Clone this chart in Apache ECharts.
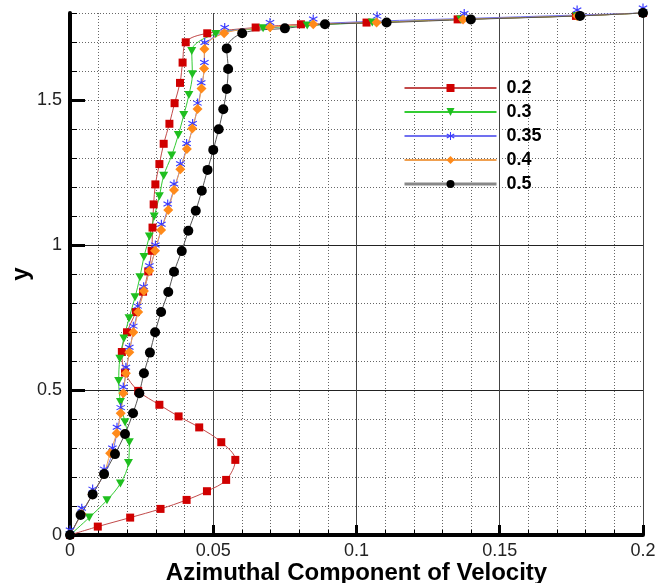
<!DOCTYPE html>
<html>
<head>
<meta charset="utf-8">
<script src="https://cdn.jsdelivr.net/npm/echarts@6/dist/echarts.min.js"></script>
<style>
  html, body { margin: 0; padding: 0; background: #fff; }
  #chart { width: 655px; height: 583px; }
</style>
</head>
<body>
<div id="chart"></div>
<script>
// Azimuthal velocity profiles, one curve per case
const seriesNames = ['0.2', '0.3', '0.35', '0.4', '0.5'];

const x02 = [0, 0.0097, 0.0210, 0.0316, 0.0407, 0.0478, 0.0545, 0.0577, 0.0528, 0.0451, 0.0379, 0.0312, 0.0238, 0.0192, 0.0181, 0.0199, 0.0230, 0.0255, 0.0273, 0.0285, 0.0288, 0.0292, 0.0298, 0.0312, 0.0327, 0.0347, 0.0365, 0.0384, 0.0393, 0.0404, 0.0479, 0.0648, 0.0806, 0.1035, 0.1353, 0.1766, 0.2];
const y02 = [0, 0.029, 0.060, 0.090, 0.121, 0.151, 0.190, 0.259, 0.320, 0.371, 0.409, 0.449, 0.497, 0.560, 0.631, 0.699, 0.769, 0.839, 0.909, 0.980, 1.060, 1.140, 1.209, 1.279, 1.349, 1.418, 1.489, 1.559, 1.629, 1.699, 1.730, 1.750, 1.761, 1.767, 1.778, 1.790, 1.800];

const x03 = [0, 0.0067, 0.0129, 0.0176, 0.0204, 0.0207, 0.0192, 0.0176, 0.0170, 0.0174, 0.0188, 0.0206, 0.0227, 0.0244, 0.0258, 0.0277, 0.0294, 0.0312, 0.0327, 0.0355, 0.0378, 0.0397, 0.0415, 0.0427, 0.0425, 0.0509, 0.0674, 0.0828, 0.1055, 0.1364, 0.1768, 0.2];
const y03 = [0, 0.060, 0.120, 0.178, 0.248, 0.320, 0.389, 0.459, 0.531, 0.608, 0.678, 0.747, 0.820, 0.889, 0.959, 1.029, 1.098, 1.168, 1.239, 1.309, 1.379, 1.448, 1.517, 1.589, 1.669, 1.728, 1.747, 1.757, 1.767, 1.778, 1.790, 1.800];

const x035 = [0, 0.0041, 0.0079, 0.0119, 0.0148, 0.0164, 0.0177, 0.0186, 0.0195, 0.0207, 0.0221, 0.0236, 0.0257, 0.0277, 0.0298, 0.0319, 0.0341, 0.0363, 0.0385, 0.0407, 0.0428, 0.0445, 0.0458, 0.0469, 0.0470, 0.0540, 0.0698, 0.0849, 0.1072, 0.1376, 0.1770, 0.2];
const y035 = [0, 0.075, 0.141, 0.210, 0.283, 0.354, 0.422, 0.493, 0.561, 0.630, 0.703, 0.772, 0.839, 0.911, 0.983, 1.054, 1.124, 1.193, 1.263, 1.333, 1.402, 1.472, 1.542, 1.612, 1.681, 1.733, 1.750, 1.762, 1.772, 1.781, 1.793, 1.800];

const x04 = [0, 0.0040, 0.0078, 0.0118, 0.0140, 0.0163, 0.0177, 0.0186, 0.0195, 0.0207, 0.0221, 0.0238, 0.0258, 0.0277, 0.0297, 0.0318, 0.0343, 0.0363, 0.0385, 0.0408, 0.0427, 0.0445, 0.0459, 0.0468, 0.0469, 0.0538, 0.0698, 0.0849, 0.1070, 0.1372, 0.1770, 0.2];
const y04 = [0, 0.072, 0.140, 0.210, 0.282, 0.351, 0.420, 0.489, 0.558, 0.630, 0.699, 0.769, 0.841, 0.911, 0.980, 1.052, 1.121, 1.190, 1.261, 1.331, 1.402, 1.469, 1.540, 1.609, 1.676, 1.730, 1.751, 1.761, 1.767, 1.778, 1.790, 1.800];

const x05 = [0, 0.0037, 0.0079, 0.0119, 0.0157, 0.0192, 0.0220, 0.0242, 0.0258, 0.0279, 0.0297, 0.0318, 0.0343, 0.0363, 0.0390, 0.0413, 0.0439, 0.0460, 0.0480, 0.0500, 0.0519, 0.0535, 0.0547, 0.0552, 0.0547, 0.0601, 0.0750, 0.0890, 0.1105, 0.1399, 0.1780, 0.2];
const y05 = [0, 0.069, 0.140, 0.210, 0.279, 0.348, 0.420, 0.489, 0.558, 0.629, 0.699, 0.769, 0.838, 0.908, 0.979, 1.049, 1.118, 1.187, 1.259, 1.328, 1.399, 1.468, 1.538, 1.607, 1.678, 1.730, 1.747, 1.761, 1.767, 1.778, 1.790, 1.800];

// Tick positions
const xTicks = [0, 0.05, 0.1, 0.15, 0.2];
const yTicks = [0, 0.5, 1, 1.5];

const zip = (xs, ys) => xs.map((x, i) => [x, ys[i]]);

// six-armed asterisk marker
const STAR = 'path://M8.8 0L11.2 0L11.2 20L8.8 20Z' +
  'M1.94 3.96L19.26 13.96L18.06 16.04L0.74 6.04Z' +
  'M0.74 13.96L18.06 3.96L19.26 6.04L1.94 16.04Z';
const TRI_DOWN = 'path://M0 0L10 0L5 9Z';

const FONT = 'Liberation Sans, Arial, sans-serif';

function lineSeries(name, xs, ys, lineColor, symbol, symbolSize, fill, extra) {
  return Object.assign({
    name: name,
    type: 'line',
    xAxisIndex: 0,
    yAxisIndex: 0,
    data: zip(xs, ys),
    smooth: 0.35,
    symbol: symbol,
    symbolSize: symbolSize,
    showAllSymbol: true,
    clip: false,
    lineStyle: { color: lineColor, width: 1 },
    itemStyle: { color: fill, borderWidth: 0 },
    emphasis: { disabled: true },
    animation: false
  }, extra || {});
}

const chart = echarts.init(document.getElementById('chart'), null, { renderer: 'canvas' });

chart.setOption({
  backgroundColor: '#fff',
  animation: false,
  grid: { left: 70, right: 12, top: 13, bottom: 48, containLabel: false, outerBoundsMode: 'none' },
  legend: {
    left: 403,
    top: 79,
    padding: 0,
    orient: 'vertical',
    itemWidth: 92,
    itemHeight: 10,
    itemGap: 6,
    selectedMode: false,
    textStyle: {
      fontFamily: FONT, fontSize: 18, fontWeight: 'bold', color: '#000',
      lineHeight: 18, padding: [0, 0, 0, 5]
    },
    data: [
      { name: '0.2' },
      { name: '0.3' },
      { name: '0.35' },
      { name: '0.4' },
      { name: '0.5', lineStyle: { color: '#888', width: 3 } }
    ]
  },
  xAxis: [
    {
      // fine grid every 0.01
      type: 'value', min: 0, max: 0.2, interval: 0.01, position: 'bottom',
      axisLine: { show: false },
      axisTick: { show: true, inside: true, length: 5, lineStyle: { color: '#000', width: 1 } },
      axisLabel: { show: false },
      splitLine: { show: true, lineStyle: { color: '#666', width: 1, type: [1, 2] } }
    },
    {
      type: 'value', min: 0, max: 0.2, interval: 0.05, position: 'bottom',
      axisLine: { show: true, onZero: false, lineStyle: { color: '#000', width: 4 } },
      axisTick: { show: true, inside: true, length: 10, customValues: xTicks, lineStyle: { color: '#000', width: 3 } },
      axisLabel: { show: true, customValues: xTicks, margin: 7, fontFamily: FONT, fontSize: 18, color: '#222' },
      splitLine: { show: true, lineStyle: { color: '#444', width: 1 } },
      name: 'Azimuthal Component of Velocity',
      nameLocation: 'middle',
      nameGap: 26,
      nameMoveOverlap: false,
      nameTextStyle: { fontFamily: FONT, fontSize: 24, fontWeight: 'bold', color: '#000' }
    }
  ],
  yAxis: [
    {
      // fine grid every 0.1
      type: 'value', min: 0, max: 1.8, interval: 0.1, position: 'left',
      axisLine: { show: false },
      axisTick: { show: true, inside: true, length: 7, lineStyle: { color: '#000', width: 1 } },
      axisLabel: { show: false },
      splitLine: { show: true, lineStyle: { color: '#666', width: 1, type: [1, 2] } }
    },
    {
      type: 'value', min: 0, max: 1.8, interval: 0.5, position: 'left',
      axisLine: { show: true, onZero: false, lineStyle: { color: '#000', width: 4 } },
      axisTick: { show: true, inside: true, length: 15, customValues: yTicks, lineStyle: { color: '#000', width: 3 } },
      axisLabel: { show: true, customValues: yTicks, margin: 8, fontFamily: FONT, fontSize: 18, color: '#222' },
      splitLine: { show: true, showMaxLine: false, lineStyle: { color: '#222', width: 1 } },
      name: 'y',
      nameLocation: 'middle',
      nameGap: 37,
      nameRotate: 90,
      nameMoveOverlap: false,
      nameTextStyle: { fontFamily: FONT, fontSize: 24, fontWeight: 'bold', color: '#000' }
    }
  ],
  series: [
    lineSeries('0.2', x02, y02, '#c24a4a', 'rect', 8, '#d00000'),
    lineSeries('0.3', x03, y03, '#33cc33', TRI_DOWN, [9, 8], '#1fbf1f'),
    lineSeries('0.35', x035, y035, '#7070f0', STAR, 9, '#3a3aff', { symbolOffset: [0, -5] }),
    lineSeries('0.4', x04, y04, '#f0a050', 'diamond', 10, '#ff8a1a'),
    lineSeries('0.5', x05, y05, '#555555', 'circle', 10, '#000000')
  ]
});
</script>
</body>
</html>
